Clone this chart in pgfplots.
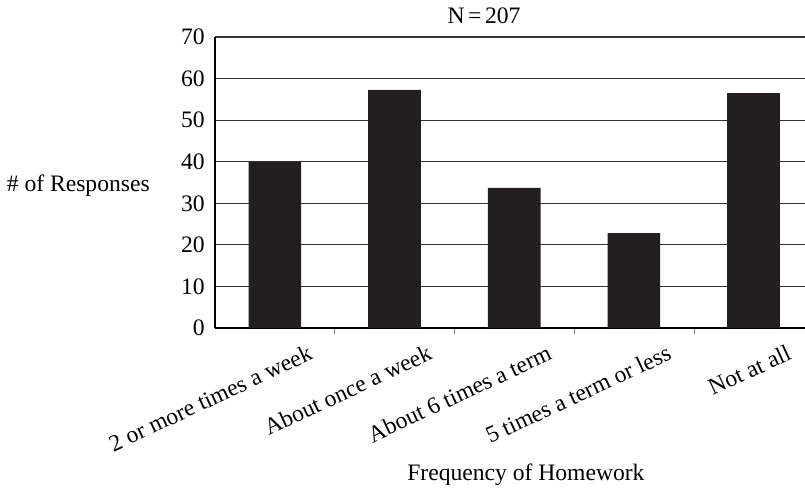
\documentclass[border=0pt]{standalone}
\usepackage{fontspec}
\setmainfont{Liberation Serif}
\usepackage{pgfplots}
\pgfplotsset{compat=1.18}
\usetikzlibrary{calc}
\definecolor{barfill}{HTML}{231F20}
\begin{document}
\fontsize{11.8}{14}\selectfont
\begin{tikzpicture}
\begin{axis}[name=ax,
    scale only axis,
    width=295pt, height=145.5pt,
    xmin=-0.5, xmax=4.43,
    ymin=0, ymax=70,
    ytick={0,10,...,70},
    xtick={0,1,2,3,4},
    xticklabels={2 or more times a week, About once a week, About 6 times a term, 5 times a term or less, Not at all},
    minor xtick={0.5,1.5,2.5,3.5},
    major x tick style={draw=none},
    minor tick length=3pt,
    tick align=inside,
    major tick length=0pt,
    axis x line*=bottom,
    axis y line*=left,
    axis line style={black, line width=0.6pt},
    ymajorgrids,
    grid style={black!80, line width=0.6pt},
    /pgf/number format/assume math mode=true,
    yticklabel style={xshift=-1pt},
    xticklabel style={xshift=18pt, yshift=-2.5pt, rotate=25, anchor=north east},
    every axis title/.style={at={(axis description cs:0.456,1)}, anchor=base, yshift=7pt},
    title={N\kern0.15em=\kern0.15em207},
    every axis x label/.style={at={(axis description cs:0.527,0)}, anchor=base, yshift=-76pt},
    xlabel={Frequency of Homework},
    every axis y label/.style={at={(axis description cs:0,0.488)}, anchor=east, xshift=-28.5pt},
    ylabel={\# of Responses},
    ybar, bar width=0.44,
    clip=true,
]
\addplot[fill=barfill, draw=none] coordinates {
    (0,40)    % 2 or more times a week
    (1,57.3)  % About once a week
    (2,33.7)  % About 6 times a term
    (3,22.8)  % 5 times a term or less
    (4,56.5)  % Not at all
};
\end{axis}
\pgfresetboundingbox
\path ($(ax.south west)+(-107.5pt,-80.5pt)$) rectangle ($(ax.south west)+(295pt,164pt)$);
\end{tikzpicture}
\end{document}
